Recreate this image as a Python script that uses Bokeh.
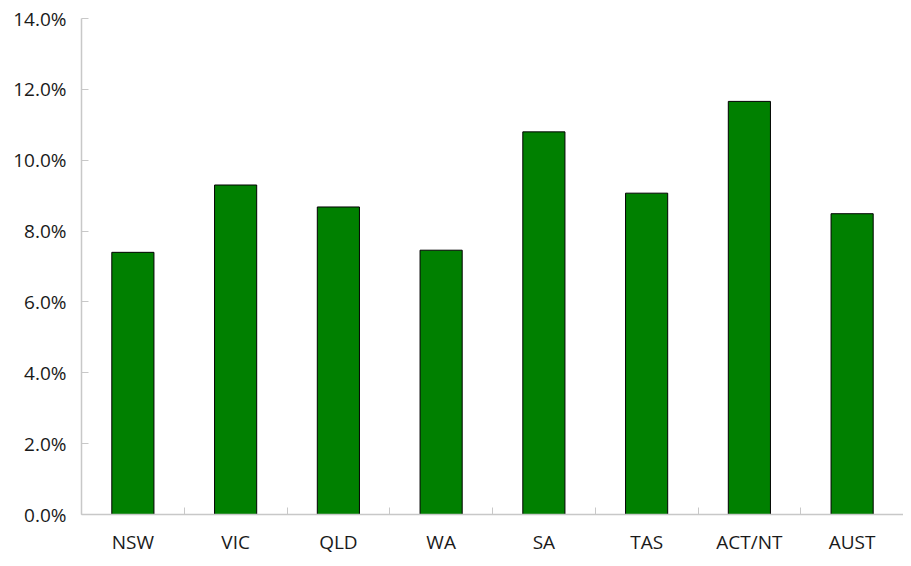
from bokeh.plotting import figure
from bokeh.models import FixedTicker, PrintfTickFormatter, Range1d, ColumnDataSource
from bokeh.embed import file_html
from bokeh.resources import INLINE

categories = ["NSW", "VIC", "QLD", "WA", "SA", "TAS", "ACT/NT", "AUST"]
values = [7.40, 9.30, 8.68, 7.46, 10.80, 9.07, 11.66, 8.49]
y_ticks = [0, 2, 4, 6, 8, 10, 12, 14]

n = len(categories)
xs = [i + 0.5 for i in range(n)]
src = ColumnDataSource(dict(x=xs, top=values))

p = figure(width=903, height=550, output_backend="svg", toolbar_location=None,
           x_range=Range1d(0, n), y_range=Range1d(0, 14),
           min_border_left=81, min_border_top=18, min_border_right=0, min_border_bottom=36)
p.frame_width = 822
p.frame_height = 496
p.outline_line_color = None
p.xgrid.visible = False
p.ygrid.visible = False

p.vbar(x="x", top="top", width=0.41, source=src, fill_color="#008000", line_color="black", line_width=1)

font = "Open Sans"
axcol = "#c8c8c8"

p.xaxis.ticker = FixedTicker(ticks=xs, minor_ticks=list(range(n + 1)))
p.xaxis.major_label_overrides = {x: c for x, c in zip(xs, categories)}
p.xaxis.major_tick_in = 0
p.xaxis.major_tick_out = 0
p.xaxis.minor_tick_in = 7
p.xaxis.minor_tick_out = 0
p.xaxis.minor_tick_line_color = axcol
p.xaxis.axis_line_color = axcol
p.xaxis.axis_line_width = 1.5
p.xaxis.major_label_standoff = 14
p.xaxis.major_label_text_font = font
p.xaxis.major_label_text_font_size = "19px"
p.xaxis.major_label_text_color = "#1a1a1a"

p.yaxis.ticker = FixedTicker(ticks=y_ticks, minor_ticks=[])
p.yaxis.formatter = PrintfTickFormatter(format="%.1f%%")
p.yaxis.major_tick_in = 7
p.yaxis.major_tick_out = 0
p.yaxis.major_tick_line_color = axcol
p.yaxis.axis_line_color = axcol
p.yaxis.axis_line_width = 1.5
p.yaxis.major_label_standoff = 15
p.yaxis.major_label_text_font = font
p.yaxis.major_label_text_font_size = "19px"
p.yaxis.major_label_text_color = "#1a1a1a"

open("out.html", "w").write(file_html(p, INLINE))
